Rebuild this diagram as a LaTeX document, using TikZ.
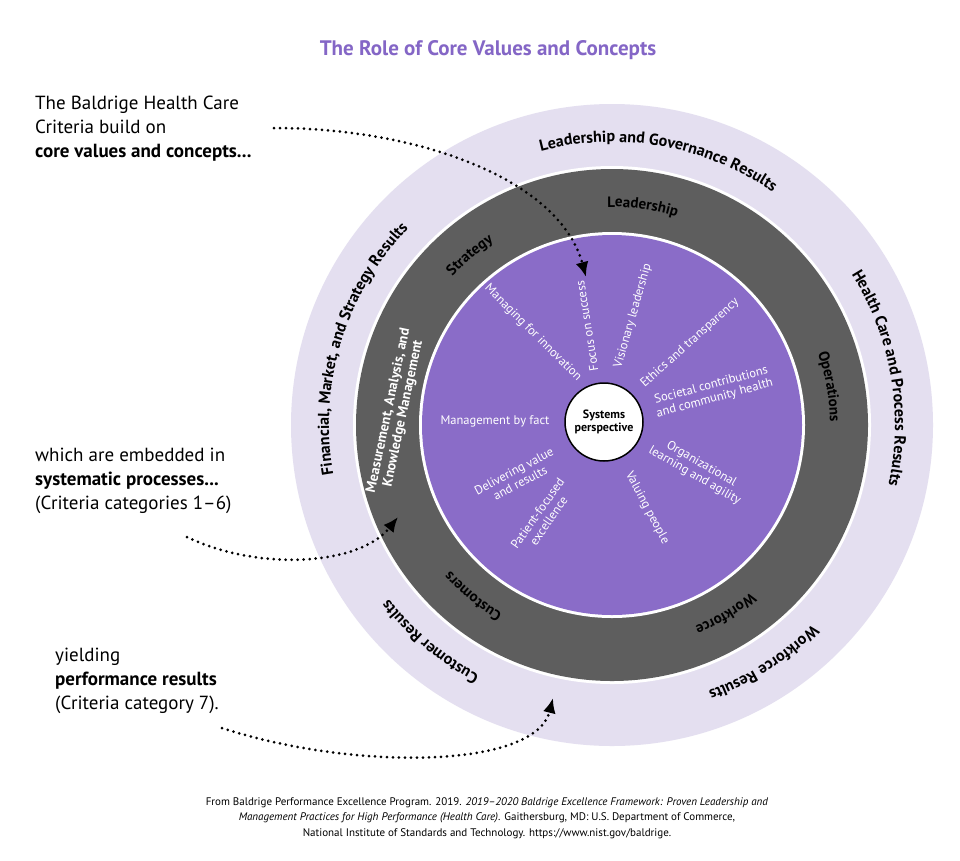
\documentclass[tikz,border=0pt]{standalone}
\usepackage{fontspec}
\setmainfont{PT Sans}
\usetikzlibrary{arrows.meta,decorations.text}
\definecolor{lav}{HTML}{E4DFF0}
\definecolor{dgray}{HTML}{5E5E5E}
\definecolor{purp}{HTML}{8A6CC8}
\definecolor{ttl}{HTML}{8466C6}
\newcommand\myring[5]{\path[text=#5,color=#5,decorate,decoration={text along path,text align=center,text={#4}}] ([shift={(#1:#3)}]C) arc[start angle=#1,end angle=#2,radius=#3];}
\begin{document}
\begin{tikzpicture}[x=1pt,y=1pt,
  inner/.style={text=white,font=\fontsize{12.5}{13.5}\selectfont,align=center,inner sep=0},
  side/.style={font=\fontsize{19}{24}\selectfont,align=left,anchor=north west,inner sep=0},
  dots/.style={line width=3pt,dash pattern=on 0pt off 6pt,line cap=round,-{Latex[length=15pt,width=13pt]}}]
\useasboundingbox (0,0) rectangle (960,-860);
\fill[white] (0,0) rectangle (960,-860);
\coordinate (C) at (612,-425);
\fill[lav] (C) circle (321);
\fill[white] (C) circle (259);
\fill[dgray] (C) circle (256);
\fill[white] (C) circle (193);
\fill[purp] (C) circle (190);
\node[circle,draw=black,line width=1.5pt,fill=white,minimum size=78,inner sep=0,align=center,font=\bfseries\fontsize{12}{13}\selectfont] (sp) at (604,-422) {Systems\\perspective};
\node[font=\bfseries\fontsize{21}{24}\selectfont,text=ttl] (title) at (488,-50) {The Role of Core Values and Concepts};
\node[inner,rotate=-45] (n1) at (533,-333) {Managing for innovation};
\node[inner,rotate=99] (n2) at (587,-326) {Focus on success};
\node[inner,rotate=74] (n3) at (633,-316) {Visionary leadership};
\node[inner,rotate=42] (n4) at (690,-343) {Ethics and transparency};
\node[inner,rotate=15] (n5) at (713,-392) {Societal contributions\\and community health};
\node[inner] (n6) at (495,-421) {Management by fact};
\node[inner,rotate=-30] (n7) at (698,-470) {Organizational\\learning and agility};
\node[inner,rotate=-62] (n8) at (647,-508) {Valuing people};
\node[inner,rotate=28] (n9) at (517,-477) {Delivering value\\and results};
\node[inner,rotate=55] (n10) at (543,-517) {Patient-focused\\excellence};
{\bfseries\fontsize{15}{15}\selectfont
\myring{110}{54}{218}{Leadership}{white}
\myring{160}{100}{218}{Strategy}{white}
\myring{40}{-20}{218}{Operations}{white}
\myring{-30}{-88}{218}{Workforce}{white}
\myring{-100}{-158}{218}{Customers}{white}
}
\node[text=white,font=\bfseries\fontsize{14}{15}\selectfont,align=center,rotate=78,inner sep=0] (mak) at (396,-412) {Measurement, Analysis, and\\Knowledge Management};
{\bfseries\fontsize{16}{16}\selectfont
\myring{125}{35}{283}{Leadership and Governance Results}{black}
\myring{55}{-35}{283}{Health Care and Process Results}{black}
\myring{-25}{-90}{283}{Workforce Results}{black}
\myring{-97}{-163}{283}{Customer Results}{black}
\myring{210}{116}{283}{Financial, Market, and Strategy Results}{black}
}
\node[side] (t1) at (35,-96) {The Baldrige Health Care\\Criteria build on\\\textbf{core values and concepts...}};
\node[side] (t2) at (35,-448) {which are embedded in\\\textbf{systematic processes...}\\(Criteria categories 1–6)};
\node[side] (t3) at (55,-648) {yielding\\\textbf{performance results}\\(Criteria category 7).};
\coordinate (s1) at (274,-128);
\coordinate (e1) at (586,-277);
\coordinate (s2) at (187,-537);
\coordinate (e2) at (398,-517);
\coordinate (s3) at (222,-728);
\coordinate (e3) at (553,-698);
\draw[dots] (s1) .. controls (420,-128) and (560,-180) .. (e1);
\draw[dots] (s2) .. controls (260,-572) and (360,-565) .. (e2);
\draw[dots] (s3) .. controls (350,-770) and (535,-770) .. (e3);
\node[font=\fontsize{11}{15.5}\selectfont,align=center] (foot) at (487,-818) {From Baldrige Performance Excellence Program. 2019. \textit{2019–2020 Baldrige Excellence Framework: Proven Leadership and}\\\textit{Management Practices for High Performance (Health Care)}. Gaithersburg, MD: U.S. Department of Commerce,\\National Institute of Standards and Technology. https://www.nist.gov/baldrige.};
\end{tikzpicture}
\end{document}
